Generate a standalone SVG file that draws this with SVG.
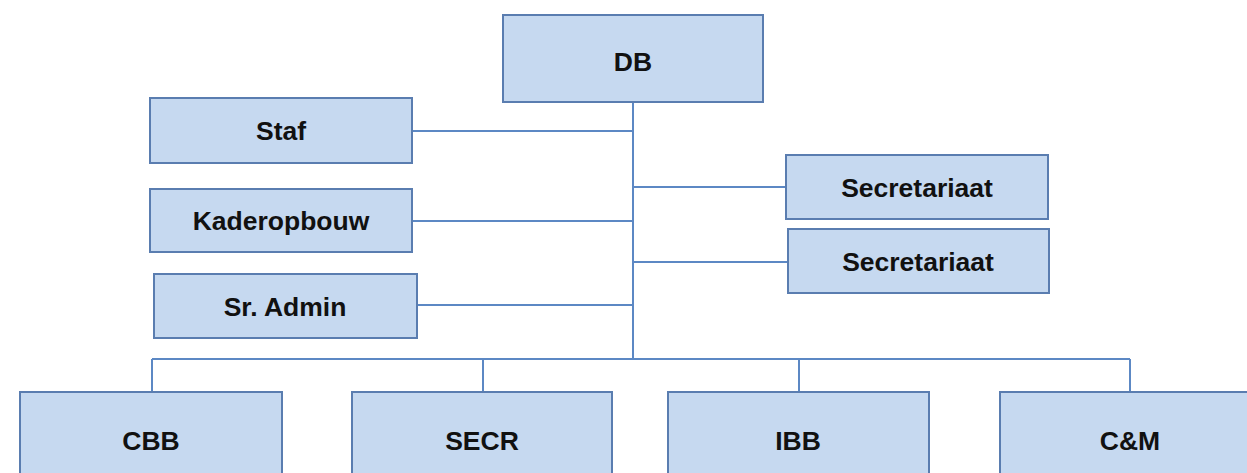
<svg xmlns="http://www.w3.org/2000/svg" width="1247" height="473" viewBox="0 0 1247 473">
<style>
.box{fill:#C6D9F0;stroke:#5A7DB0;stroke-width:2}
.lbl{font-family:"Liberation Sans",Arial,sans-serif;font-weight:bold;font-size:26.5px;fill:#111;text-anchor:middle}
.con{stroke:#5C88C4;stroke-width:2;fill:none}
</style>
<rect width="1247" height="473" fill="#fff"/>
<g id="connectors">
<path class="con" d="M633,102 V359 M152,359 H1130 M152,359 V392 M483,359 V392 M799,359 V392 M1130,359 V392 M412,131 H633 M412,221 H633 M417,305 H633 M633,187 H786 M633,262 H788"/>
</g>
<g id="db"><rect class="box" x="503" y="15" width="260" height="87"/><text class="lbl" x="633" y="71">DB</text></g>
<g id="staf"><rect class="box" x="150" y="98" width="262" height="65"/><text class="lbl" x="281" y="140">Staf</text></g>
<g id="kaderopbouw"><rect class="box" x="150" y="189" width="262" height="63"/><text class="lbl" x="281" y="230">Kaderopbouw</text></g>
<g id="sradmin"><rect class="box" x="154" y="274" width="263" height="64"/><text class="lbl" x="285" y="316">Sr. Admin</text></g>
<g id="secretariaat1"><rect class="box" x="786" y="155" width="262" height="64"/><text class="lbl" x="917" y="197">Secretariaat</text></g>
<g id="secretariaat2"><rect class="box" x="788" y="229" width="261" height="64"/><text class="lbl" x="918" y="271">Secretariaat</text></g>
<g id="cbb"><rect class="box" x="20" y="392" width="262" height="100"/><text class="lbl" x="151" y="450">CBB</text></g>
<g id="secr"><rect class="box" x="352" y="392" width="260" height="100"/><text class="lbl" x="482" y="450">SECR</text></g>
<g id="ibb"><rect class="box" x="668" y="392" width="261" height="100"/><text class="lbl" x="798" y="450">IBB</text></g>
<g id="cm"><rect class="box" x="1000" y="392" width="260" height="100"/><text class="lbl" x="1130" y="450">C&amp;M</text></g>
</svg>
